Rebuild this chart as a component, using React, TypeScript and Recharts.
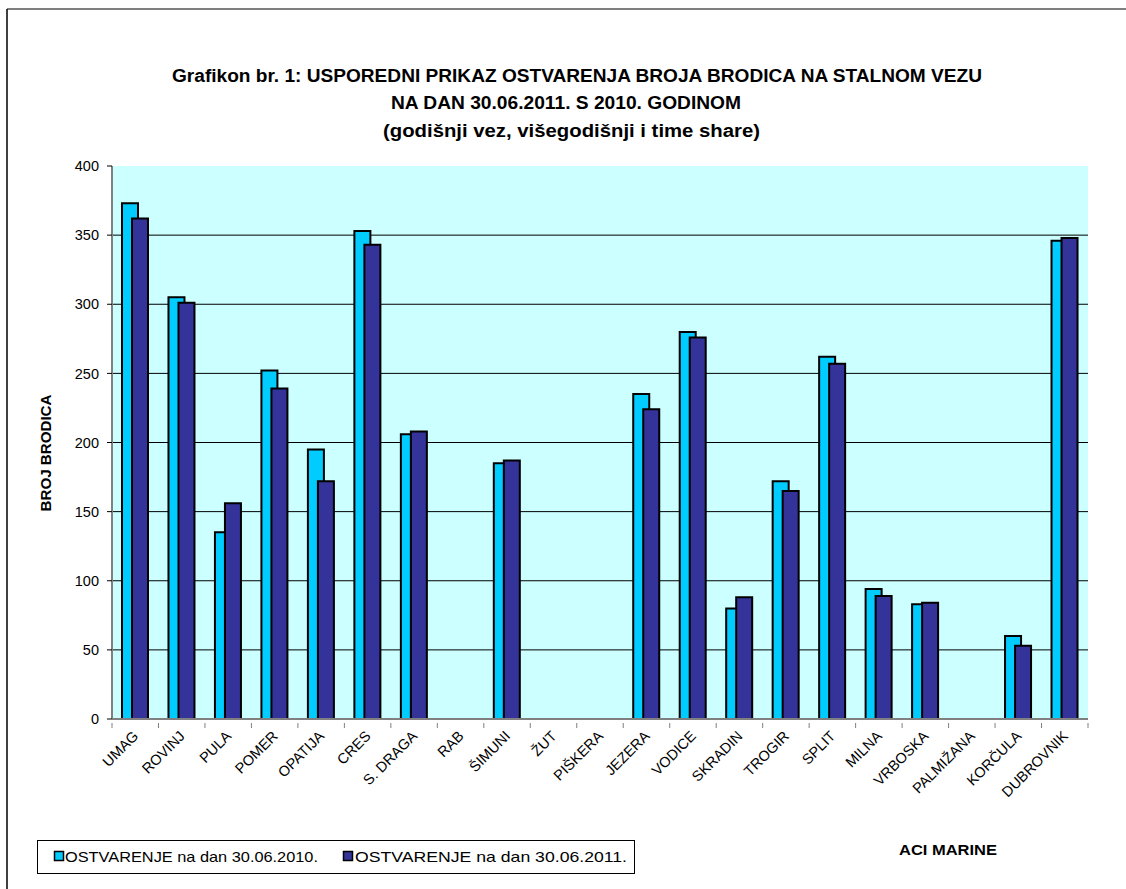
import { BarChart, Bar, XAxis, YAxis, CartesianGrid } from 'recharts'

// ACI marine, broj brodica na stalnom vezu
const marine = [
  'UMAG', 'ROVINJ', 'PULA', 'POMER', 'OPATIJA', 'CRES', 'S. DRAGA', 'RAB',
  'ŠIMUNI', 'ŽUT', 'PIŠKERA', 'JEZERA', 'VODICE', 'SKRADIN', 'TROGIR', 'SPLIT',
  'MILNA', 'VRBOSKA', 'PALMIŽANA', 'KORČULA', 'DUBROVNIK',
]
const vez2010 = [373, 305, 135, 252, 195, 353, 206, 0, 185, 0, 0, 235, 280, 80, 172, 262, 94, 83, 0, 60, 346]
const vez2011 = [362, 301, 156, 239, 172, 343, 208, 0, 187, 0, 0, 224, 276, 88, 165, 257, 89, 84, 0, 53, 348]
const yTicks = [0, 50, 100, 150, 200, 250, 300, 350, 400]
const gridValues = [50, 100, 150, 200, 250, 300, 350]

const titleLines = [
  'Grafikon br. 1: USPOREDNI PRIKAZ OSTVARENJA BROJA BRODICA NA STALNOM VEZU',
  'NA DAN 30.06.2011. S 2010. GODINOM',
  '(godišnji vez, višegodišnji i time share)',
]
const legendNames = ['OSTVARENJE  na dan 30.06.2010.', 'OSTVARENJE na dan 30.06.2011.']

const CYAN = '#00CCFF'
const NAVY = '#333399'
const AXIS_GREY = '#808080'
const FONT = '"Liberation Sans", Arial, sans-serif'
const NARROW = '"Liberation Sans Narrow", "Liberation Sans", Arial, sans-serif'

const data = marine.map((name, i) => ({
  name,
  v2010: vez2010[i],
  v2011: vez2011[i],
}))

// tick marks sit on the category boundaries, labels are slanted
function MarinaTick(props: any) {
  const { x, y, payload, index } = props
  const half = payload.offset || 0
  const axisY = y - 4
  const tx = x + 4
  const ty = axisY + 14
  return (
    <g>
      <line x1={x - half} x2={x - half} y1={axisY} y2={axisY + 5} stroke={AXIS_GREY} />
      {index === marine.length - 1 && (
        <line x1={x + half} x2={x + half} y1={axisY} y2={axisY + 5} stroke={AXIS_GREY} />
      )}
      <text
        x={tx}
        y={ty}
        textAnchor="end"
        fontSize={14.5}
        fontFamily={FONT}
        fill="#000"
        transform={`rotate(-45 ${tx} ${ty})`}
      >
        {payload.value}
      </text>
    </g>
  )
}

export default function App() {
  return (
    <div style={{ position: 'absolute', left: 0, top: 0, width: 1126, height: 889, background: '#fff' }}>
      <BarChart
        width={1126}
        height={889}
        data={data}
        margin={{ top: 166, right: 38, left: 62, bottom: 70 }}
        barGap={-6}
        style={{ position: 'absolute', left: 0, top: 0 }}
      >
        <CartesianGrid
          vertical={false}
          horizontalValues={gridValues}
          stroke="#000"
          fill="#CCFFFF"
          fillOpacity={1}
        />
        <XAxis
          dataKey="name"
          interval={0}
          height={100}
          tickLine={false}
          axisLine={{ stroke: AXIS_GREY, strokeWidth: 2 }}
          tick={<MarinaTick />}
        />
        <XAxis
          xAxisId="top"
          dataKey="name"
          orientation="top"
          height={0}
          tick={false}
          tickLine={false}
          axisLine={{ stroke: AXIS_GREY, strokeWidth: 3 }}
        />
        <YAxis
          domain={[0, 400]}
          ticks={yTicks}
          width={50}
          tickSize={5}
          tickMargin={8}
          tickLine={{ stroke: '#000' }}
          axisLine={{ stroke: AXIS_GREY, strokeWidth: 2 }}
          tick={{ fill: '#000', fontSize: 14.5, fontFamily: FONT }}
        />
        <YAxis
          yAxisId="right"
          orientation="right"
          domain={[0, 400]}
          width={0}
          tick={false}
          tickLine={false}
          axisLine={{ stroke: AXIS_GREY, strokeWidth: 3 }}
        />
        <Bar dataKey="v2010" fill={CYAN} stroke="#000" strokeWidth={2} barSize={16} isAnimationActive={false} />
        <Bar dataKey="v2011" fill={NAVY} stroke="#000" strokeWidth={2} barSize={16} isAnimationActive={false} />
      </BarChart>

      <svg
        width={1126}
        height={889}
        style={{ position: 'absolute', left: 0, top: 0, pointerEvents: 'none' }}
      >
        {/* outer frame */}
        <line x1={7} x2={1126} y1={9} y2={9} stroke="#555" strokeWidth={1.5} />
        <line x1={7} x2={7} y1={9} y2={889} stroke="#000" strokeWidth={1.5} />

        {/* title */}
        <text x={172} y={82} fontSize={18} fontWeight="bold" fontFamily={NARROW} textLength={810} lengthAdjust="spacingAndGlyphs">
          {titleLines[0]}
        </text>
        <text x={391} y={109} fontSize={18} fontWeight="bold" fontFamily={NARROW} textLength={350} lengthAdjust="spacingAndGlyphs">
          {titleLines[1]}
        </text>
        <text x={383} y={137} fontSize={18} fontWeight="bold" fontFamily={NARROW} textLength={377} lengthAdjust="spacingAndGlyphs">
          {titleLines[2]}
        </text>

        {/* y axis title */}
        <text
          x={51}
          y={453}
          fontSize={14}
          fontWeight="bold"
          fontFamily={FONT}
          textAnchor="middle"
          textLength={117}
          lengthAdjust="spacingAndGlyphs"
          transform="rotate(-90 51 453)"
        >
          BROJ BRODICA
        </text>

        {/* legend */}
        <rect x={37.5} y={840.5} width={597} height={33} fill="#fff" stroke="#000" />
        <rect x={54.5} y={851.5} width={9} height={9} fill={CYAN} stroke="#000" strokeWidth={1.5} />
        <text x={65} y={862} fontSize={15} fontFamily={NARROW} textLength={253} lengthAdjust="spacingAndGlyphs">
          {legendNames[0]}
        </text>
        <rect x={343.5} y={851.5} width={9} height={9} fill={NAVY} stroke="#000" strokeWidth={1.5} />
        <text x={355} y={862} fontSize={15} fontFamily={NARROW} textLength={272} lengthAdjust="spacingAndGlyphs">
          {legendNames[1]}
        </text>

        {/* category axis title */}
        <text x={899} y={855} fontSize={14} fontWeight="bold" fontFamily={FONT} textLength={98} lengthAdjust="spacingAndGlyphs">
          ACI MARINE
        </text>
      </svg>
    </div>
  )
}
